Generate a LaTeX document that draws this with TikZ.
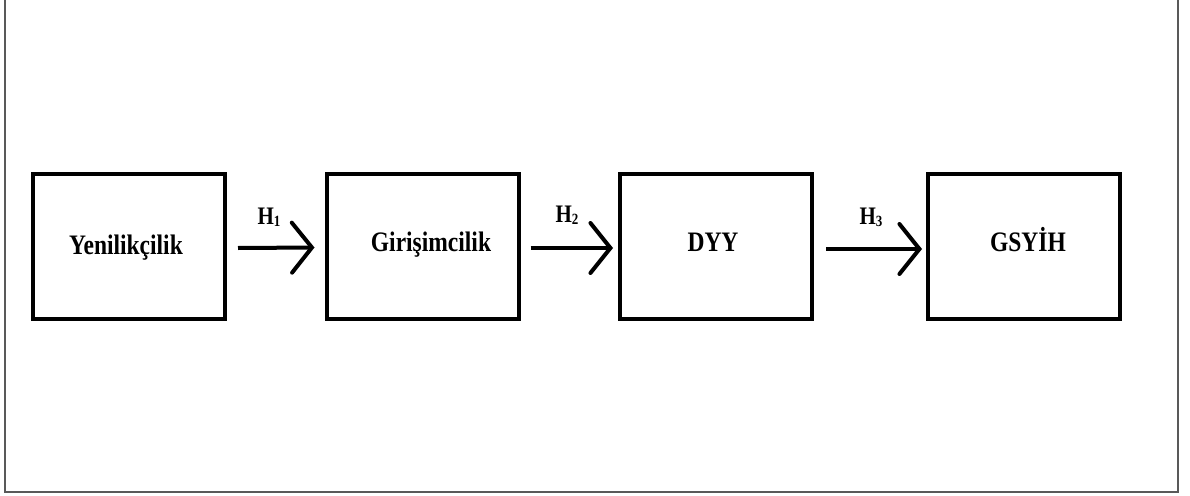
\documentclass[tikz,border=0pt]{standalone}
\usepackage{fontspec}
\setmainfont{Liberation Serif}
\usetikzlibrary{arrows.meta}
\tikzset{
  box/.style={draw=black, line width=4pt, minimum width=192pt, minimum height=145pt, inner sep=0pt},
  lbl/.style={font=\fontsize{23.5}{26}\selectfont\bfseries, inner sep=0pt},
  hlbl/.style={font=\fontsize{21}{24}\selectfont\bfseries, inner sep=0pt},
  arr/.style={line width=4pt, -{Straight Barb[length=20pt, width=50pt, line cap=round]}},
  frame/.style={draw=black!65, line width=1.6pt}
}
\newcommand{\hsub}[1]{\raisebox{-1.5pt}{\fontsize{13}{13}\selectfont #1}}
\newcommand{\tall}[1]{\scalebox{1}[1.2]{#1}}
\begin{document}
\begin{tikzpicture}[x=1pt,y=-1pt]
\useasboundingbox (0,0) rectangle (1190,495);
\coordinate (f1) at (5,-2);
\coordinate (f2) at (5,492);
\coordinate (f3) at (1178,492);
\coordinate (f4) at (1178,-2);
\draw[frame] (f1) -- (f2) -- (f3) -- (f4);
\node[box] (b1) at (129,246.5) {};
\node[box] (b2) at (422.5,246) {};
\node[box] (b3) at (716,246) {};
\node[box] (b4) at (1024,246) {};
\node[lbl] (t1) at (126,248) {\tall{Yenilikçilik}};
\node[lbl] (t2) at (431,245) {\tall{Girişimcilik}};
\node[lbl] (t3) at (713,242) {\tall{DYY}};
\node[lbl] (t4) at (1028,240) {\tall{GSYİH}};
\draw[arr] ([xshift=11pt,yshift=-1.5pt]b1.east) -- ([xshift=-10pt,yshift=-1.5pt]b2.west);
\draw[arr] ([xshift=10pt,yshift=-2pt]b2.east) -- ([xshift=-5pt,yshift=-2pt]b3.west);
\draw[arr] ([xshift=12pt,yshift=-3pt]b3.east) -- ([xshift=-4pt,yshift=-3pt]b4.west);
\node[hlbl] (h1) at (269,217) {\tall{H\hsub{1}}};
\node[hlbl] (h2) at (567,215) {\tall{H\hsub{2}}};
\node[hlbl] (h3) at (871,217) {\tall{H\hsub{3}}};
\end{tikzpicture}
\end{document}
